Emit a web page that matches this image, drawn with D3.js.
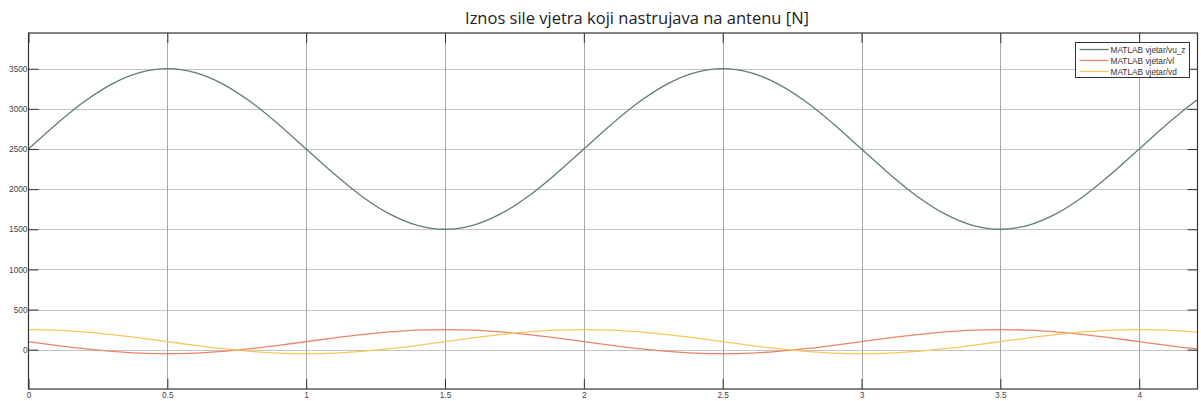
<!DOCTYPE html>
<html>
<head>
<meta charset="utf-8">
<script src="https://cdn.jsdelivr.net/npm/d3@7"></script>
<style>
  html, body { margin: 0; padding: 0; background: #fff; }
  svg { display: block; }
</style>
</head>
<body>
<svg id="chart" width="1201" height="401"></svg>
<script>
// Simulation time samples [s]
const time = [0.0, 0.1, 0.2, 0.3, 0.4, 0.5, 0.6, 0.7, 0.8, 0.9,
              1.0, 1.1, 1.2, 1.3, 1.4, 1.5, 1.6, 1.7, 1.8, 1.9,
              2.0, 2.1, 2.2, 2.3, 2.4, 2.5, 2.6, 2.7, 2.8, 2.9,
              3.0, 3.1, 3.2, 3.3, 3.4, 3.5, 3.6, 3.7, 3.8, 3.9,
              4.0, 4.1, 4.2, 4.3];

// Force magnitude [N] for each scope signal
const vu_z = [2500, 2809, 3088, 3309, 3451, 3500, 3451, 3309, 3088, 2809,
              2500, 2191, 1912, 1691, 1549, 1500, 1549, 1691, 1912, 2191,
              2500, 2809, 3088, 3309, 3451, 3500, 3451, 3309, 3088, 2809,
              2500, 2191, 1912, 1691, 1549, 1500, 1549, 1691, 1912, 2191,
              2500, 2809, 3088, 3309];
const vl   = [100, 54, 12, -21, -43, -50, -43, -21, 12, 54,
              100, 146, 188, 221, 243, 250, 243, 221, 188, 146,
              100, 54, 12, -21, -43, -50, -43, -21, 12, 54,
              100, 146, 188, 221, 243, 250, 243, 221, 188, 146,
              100, 54, 12, -21];
const vd   = [250, 243, 221, 188, 146, 100, 54, 12, -21, -43,
              -50, -43, -21, 12, 54, 100, 146, 188, 221, 243,
              250, 243, 221, 188, 146, 100, 54, 12, -21, -43,
              -50, -43, -21, 12, 54, 100, 146, 188, 221, 243,
              250, 243, 221, 188];

const seriesNames = ["MATLAB vjetar/vu_z", "MATLAB vjetar/vl", "MATLAB vjetar/vd"];
const seriesColors = ["#5e7f75", "#ea8468", "#f6c85c"];
const xTicks = [0, 0.5, 1, 1.5, 2, 2.5, 3, 3.5, 4];
const xTickLabels = ["0", "0.5", "1", "1.5", "2", "2.5", "3", "3.5", "4"];
const yTicks = [0, 500, 1000, 1500, 2000, 2500, 3000, 3500];
const titleText = "Iznos sile vjetra koji nastrujava na antenu [N]";

const svg = d3.select("#chart");
const plot = { left: 28.5, top: 33, right: 1197.5, bottom: 389 };

const x = d3.scaleLinear().domain([0, 4.21]).range([plot.left, plot.right]);
const y = d3.scaleLinear().domain([-490, 3945]).range([plot.bottom, plot.top]);

// Title
svg.append("text")
  .attr("x", 637).attr("y", 24)
  .attr("text-anchor", "middle")
  .attr("font-family", "'Open Sans', 'Noto Sans', sans-serif")
  .attr("font-size", 16.5)
  .attr("fill", "#222")
  .text(titleText);

// Grid
const grid = svg.append("g");
grid.selectAll("line.h").data(yTicks).join("line")
  .attr("x1", plot.left).attr("x2", plot.right)
  .attr("y1", d => Math.round(y(d)) + 0.5).attr("y2", d => Math.round(y(d)) + 0.5)
  .attr("stroke", "#c4c4c4").attr("stroke-width", 1);
grid.selectAll("line.v").data(xTicks.slice(1)).join("line")
  .attr("y1", plot.top).attr("y2", plot.bottom)
  .attr("x1", d => Math.round(x(d)) + 0.5).attr("x2", d => Math.round(x(d)) + 0.5)
  .attr("stroke", "#a8a8a8").attr("stroke-width", 1);

// Series
const clipId = "plotClip";
svg.append("clipPath").attr("id", clipId).append("rect")
  .attr("x", plot.left).attr("y", plot.top)
  .attr("width", plot.right - plot.left).attr("height", plot.bottom - plot.top);

const line = d3.line()
  .x((d, i) => x(time[i]))
  .y(d => y(d))
  .curve(d3.curveCatmullRom.alpha(0.5));

const allSeries = [vu_z, vl, vd];
svg.append("g").attr("clip-path", `url(#${clipId})`)
  .selectAll("path").data(allSeries).join("path")
  .attr("d", d => line(d))
  .attr("fill", "none")
  .attr("stroke", (d, i) => seriesColors[i])
  .attr("stroke-width", 1.3);

// Axes with inward ticks on all sides
const tickLen = 10;
const axisFont = "'Liberation Sans', Arial, sans-serif";

const yAxisL = d3.axisLeft(y).tickValues(yTicks).tickSizeInner(-tickLen).tickSizeOuter(0)
  .tickPadding(1).tickFormat(d3.format("d"));
const yAxisR = d3.axisRight(y).tickValues(yTicks).tickSizeInner(-tickLen).tickSizeOuter(0).tickFormat("");
const xAxisB = d3.axisBottom(x).tickValues(xTicks).tickSizeInner(-tickLen).tickSizeOuter(0)
  .tickPadding(3).tickFormat((d, i) => xTickLabels[i]);
const xAxisT = d3.axisTop(x).tickValues(xTicks).tickSizeInner(-tickLen).tickSizeOuter(0).tickFormat("");

function styleAxis(g) {
  g.select(".domain").remove();
  g.selectAll(".tick line").attr("stroke", "#333").attr("stroke-width", 1);
  g.selectAll(".tick text").attr("font-family", axisFont).attr("font-size", 8.3).attr("fill", "#444");
}

svg.append("g").attr("transform", `translate(${plot.left},0)`).call(yAxisL).call(styleAxis);
svg.append("g").attr("transform", `translate(${plot.right},0)`).call(yAxisR).call(styleAxis);
svg.append("g").attr("transform", `translate(0,${plot.bottom})`).call(xAxisB).call(styleAxis);
svg.append("g").attr("transform", `translate(0,${plot.top})`).call(xAxisT).call(styleAxis);

// Plot frame
svg.append("rect")
  .attr("x", plot.left).attr("y", plot.top)
  .attr("width", plot.right - plot.left).attr("height", plot.bottom - plot.top)
  .attr("fill", "none").attr("stroke", "#333").attr("stroke-width", 1.2);

// Legend
const lg = svg.append("g").attr("transform", "translate(1075.5,42.5)");
lg.append("rect").attr("width", 114).attr("height", 35)
  .attr("fill", "#fff").attr("stroke", "#333").attr("stroke-width", 1);
const items = lg.selectAll("g.item").data(seriesNames).join("g")
  .attr("transform", (d, i) => `translate(0,${7 + i * 11})`);
items.append("line").attr("x1", 4).attr("x2", 33).attr("y1", 0).attr("y2", 0)
  .attr("stroke", (d, i) => seriesColors[i]).attr("stroke-width", 1.3);
items.append("text").attr("x", 35).attr("y", 3)
  .attr("font-family", axisFont).attr("font-size", 8.3).attr("fill", "#333")
  .text(d => d);
</script>
</body>
</html>
